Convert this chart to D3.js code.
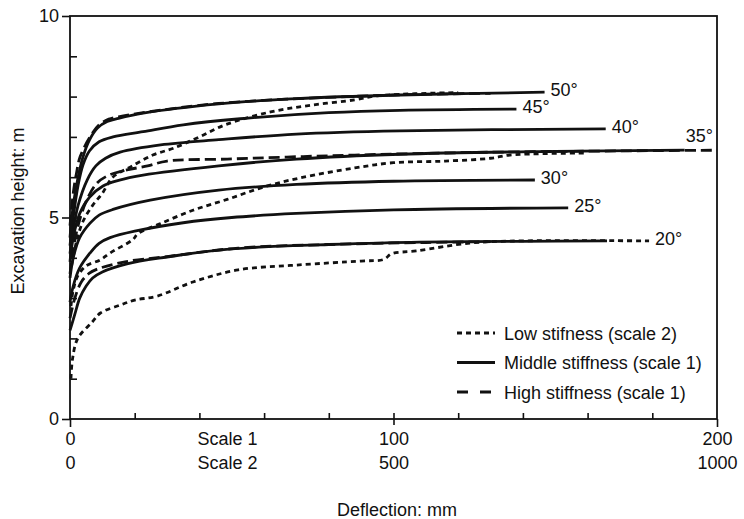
<!DOCTYPE html>
<html>
<head>
<meta charset="utf-8">
<script src="https://cdn.jsdelivr.net/npm/d3@7"></script>
<style>
  body { margin: 0; background: #fff; }
  svg { display: block; font-family: "Liberation Sans", Arial, Helvetica, sans-serif; }
</style>
</head>
<body>
<svg id="chart" width="744" height="519"></svg>
<script>
// middle stiffness, deflection on scale 1 (mm)
const mid20 = [[0,2.2],[1.5,2.6],[3,3.0],[5,3.3],[7,3.5],[10,3.65],[17.6,3.85],[30,4.02],[46,4.19],[60,4.27],[80,4.33],[108,4.39],[140,4.41],[166,4.42]];
const mid25 = [[0,2.9],[1,3.3],[3,3.75],[6.2,4.12],[9,4.36],[12.4,4.5],[20,4.66],[35,4.87],[50,5.0],[70,5.1],[100,5.19],[154,5.24]];
const mid30 = [[0,3.5],[1,4.0],[3,4.5],[6.2,4.86],[9,5.06],[13.3,5.2],[24.8,5.43],[46,5.68],[70,5.82],[100,5.9],[143.7,5.93]];
const mid35 = [[0,3.9],[1,4.5],[3,5.1],[6,5.5],[10.2,5.78],[15,5.92],[22.6,6.05],[46,6.28],[70,6.45],[102,6.57],[150,6.64],[190,6.67]];
const mid40 = [[0,4.1],[1,4.7],[2.5,5.3],[5.3,5.93],[8,6.28],[11,6.47],[15.5,6.62],[28,6.8],[46,6.93],[70,7.07],[102,7.15],[165.6,7.2]];
const mid45 = [[0,4.3],[1,5.0],[2.5,5.8],[4,6.3],[6,6.65],[9,6.88],[13.3,7.0],[22.6,7.13],[35,7.3],[52.6,7.45],[80,7.6],[102,7.66],[138,7.69]];
const mid50 = [[0,4.5],[1,5.3],[2.5,6.0],[4,6.5],[6,6.92],[8.5,7.22],[11.5,7.38],[15,7.46],[22.6,7.59],[46,7.82],[70,7.95],[102,8.04],[146.7,8.11]];

// high stiffness, scale 1 (mm)
const high20 = [[0,2.5],[1.5,3.0],[3.5,3.4],[6,3.62],[8.4,3.72],[17,3.9],[30,4.03],[52,4.24],[80,4.33],[110,4.38],[130,4.40]];
const high35 = [[0,3.6],[1,4.2],[2.5,4.8],[5,5.4],[8.3,5.85],[12,6.05],[17.6,6.18],[24,6.28],[30,6.4],[48.6,6.45],[67,6.5],[88,6.55],[130,6.62],[200,6.67]];
const high50 = [[0,4.8],[1,5.6],[2,6.1],[3.1,6.5],[6.2,7.0],[9,7.3],[12,7.44],[15,7.5],[22.6,7.6],[46,7.83],[100,8.04],[130,8.08]];

// low stiffness, scale 2 (mm)
const low20 = [[1.5,1.0],[4,1.5],[12,2.0],[34,2.4],[47,2.63],[78,2.83],[100,2.95],[135,3.05],[190,3.4],[260,3.7],[350,3.82],[450,3.92],[485,3.96],[497,4.1],[535,4.17],[620,4.37],[700,4.42],[895,4.42]];
const low35 = [[1.5,2.8],[5,3.2],[12,3.55],[25,3.8],[47,3.95],[62,4.12],[97,4.45],[105,4.6],[140,4.85],[190,5.18],[243,5.45],[300,5.76],[355,5.98],[440,6.23],[500,6.36],[580,6.4],[650,6.47],[680,6.55],[800,6.6]];
const low50 = [[2.5,3.8],[10,4.4],[20,4.9],[35,5.3],[50,5.6],[66,6.0],[93,6.25],[128,6.55],[160,6.72],[200,7.0],[240,7.3],[310,7.62],[375,7.79],[440,7.92],[475,8.02],[600,8.1]];

const angleLabels = ["20°", "25°", "30°", "35°", "40°", "45°", "50°"];
const legendLabels = ["Low stifness (scale 2)", "Middle stiffness (scale 1)", "High stiffness (scale 1)"];

const margin = { top: 16, right: 27, bottom: 100, left: 70 },
  width = 744 - margin.left - margin.right,
  height = 519 - margin.top - margin.bottom;

const svg = d3.select("#chart")
  .append("g")
  .attr("transform", `translate(${margin.left},${margin.top})`);

const x = d3.scaleLinear().domain([0, 200]).range([0, width]);
const x2 = d3.scaleLinear().domain([0, 1000]).range([0, width]);
const y = d3.scaleLinear().domain([0, 10]).range([height, 0]);

const ink = "#111";

// frame
svg.append("rect")
  .attr("width", width).attr("height", height)
  .attr("fill", "none").attr("stroke", ink).attr("stroke-width", 1.8);

// inner minor ticks
svg.append("g")
  .call(d3.axisRight(y).tickValues(d3.range(1, 10)).tickSize(7).tickFormat(""))
  .call(g => g.select(".domain").remove());
svg.append("g")
  .attr("transform", `translate(0,${height})`)
  .call(d3.axisTop(x).tickValues(d3.range(20, 200, 20)).tickSize(6).tickFormat(""))
  .call(g => g.select(".domain").remove());

// labelled y ticks
svg.append("g")
  .call(d3.axisLeft(y).tickValues([0, 5, 10]).tickSize(8).tickPadding(3))
  .call(g => g.select(".domain").remove());

// x ticks crossing below the axis
svg.append("g")
  .attr("transform", `translate(0,${height})`)
  .call(d3.axisBottom(x).tickValues([0, 200]).tickSize(8).tickFormat(""))
  .call(g => g.select(".domain").remove());
svg.append("g")
  .attr("transform", `translate(0,${height})`)
  .call(d3.axisBottom(x).tickValues([100]).tickSize(6).tickFormat(""))
  .call(g => g.select(".domain").remove());

// label rows: scale 1 and scale 2
svg.append("g")
  .attr("transform", `translate(0,${height})`)
  .call(d3.axisBottom(x).tickValues([0, 100, 200]).tickSize(0).tickPadding(13).tickFormat(d3.format("d")))
  .call(g => g.select(".domain").remove());
svg.append("g")
  .attr("transform", `translate(0,${height})`)
  .call(d3.axisBottom(x2).tickValues([0, 500, 1000]).tickSize(0).tickPadding(37).tickFormat(d3.format("d")))
  .call(g => g.select(".domain").remove());
svg.append("text").attr("x", x(40) - 2).attr("y", height + 26).text("Scale 1");
svg.append("text").attr("x", x2(200) - 2).attr("y", height + 50).text("Scale 2");

svg.selectAll(".tick line").attr("stroke", ink).attr("stroke-width", 1.6);
svg.selectAll("text").attr("font-size", 18).attr("fill", ink).attr("font-family", null);

// axis titles
svg.append("text")
  .attr("x", 327).attr("y", height + 97)
  .attr("text-anchor", "middle").attr("font-size", 18).attr("fill", ink)
  .text("Deflection: mm");
svg.append("text")
  .attr("transform", `translate(${24 - margin.left},${211 - margin.top}) rotate(-90)`)
  .attr("text-anchor", "middle").attr("font-size", 18).attr("fill", ink)
  .text("Excavation height: m");

// curves
const line1 = d3.line().x(d => x(d[0])).y(d => y(d[1])).curve(d3.curveCatmullRom.alpha(0.5));
const line2 = d3.line().x(d => x2(d[0])).y(d => y(d[1])).curve(d3.curveCatmullRom.alpha(0.5));

const dashLow = "5,4", dashHigh = "11,5";

const curves = [
  { data: low20, line: line2, dash: dashLow },
  { data: low35, line: line2, dash: dashLow },
  { data: low50, line: line2, dash: dashLow },
  { data: high20, line: line1, dash: dashHigh },
  { data: high35, line: line1, dash: dashHigh },
  { data: high50, line: line1, dash: dashHigh },
  { data: mid20, line: line1, dash: null },
  { data: mid25, line: line1, dash: null },
  { data: mid30, line: line1, dash: null },
  { data: mid35, line: line1, dash: null },
  { data: mid40, line: line1, dash: null },
  { data: mid45, line: line1, dash: null },
  { data: mid50, line: line1, dash: null }
];

svg.selectAll("path.curve")
  .data(curves)
  .join("path")
  .attr("class", "curve")
  .attr("d", c => c.line(c.data))
  .attr("fill", "none")
  .attr("stroke", ink)
  .attr("stroke-width", 2.8)
  .attr("stroke-dasharray", c => c.dash);

// angle labels at the end of the longest curve for each angle
const labelEnds = [
  { p: low20[low20.length - 1], s: x2 },
  { p: mid25[mid25.length - 1], s: x },
  { p: mid30[mid30.length - 1], s: x },
  { p: high35[high35.length - 1], s: x },
  { p: mid40[mid40.length - 1], s: x },
  { p: mid45[mid45.length - 1], s: x },
  { p: mid50[mid50.length - 1], s: x }
];
svg.selectAll("text.angle")
  .data(angleLabels)
  .join("text")
  .attr("class", "angle")
  .attr("font-size", 18).attr("fill", ink)
  .attr("text-anchor", (d, i) => labelEnds[i].s(labelEnds[i].p[0]) >= width ? "end" : "start")
  .attr("x", (d, i) => {
    const px = labelEnds[i].s(labelEnds[i].p[0]);
    return px >= width ? px - 4 : px + 6;
  })
  .attr("y", (d, i) => {
    const py = y(labelEnds[i].p[1]);
    return labelEnds[i].s(labelEnds[i].p[0]) >= width ? py - 8 : py + 4;
  })
  .text(d => d);

// legend
const legend = svg.append("g").attr("transform", `translate(${457 - margin.left},${333 - margin.top})`);
const legendDash = [dashLow, null, "11,12"];
legendLabels.forEach((t, i) => {
  const g = legend.append("g").attr("transform", `translate(0,${i * 29.5})`);
  g.append("line")
    .attr("x1", 0).attr("x2", 38)
    .attr("stroke", ink).attr("stroke-width", 2.8)
    .attr("stroke-dasharray", legendDash[i]);
  g.append("text")
    .attr("x", 47).attr("y", 6.5)
    .attr("font-size", 18).attr("fill", ink)
    .text(t);
});
</script>
</body>
</html>
